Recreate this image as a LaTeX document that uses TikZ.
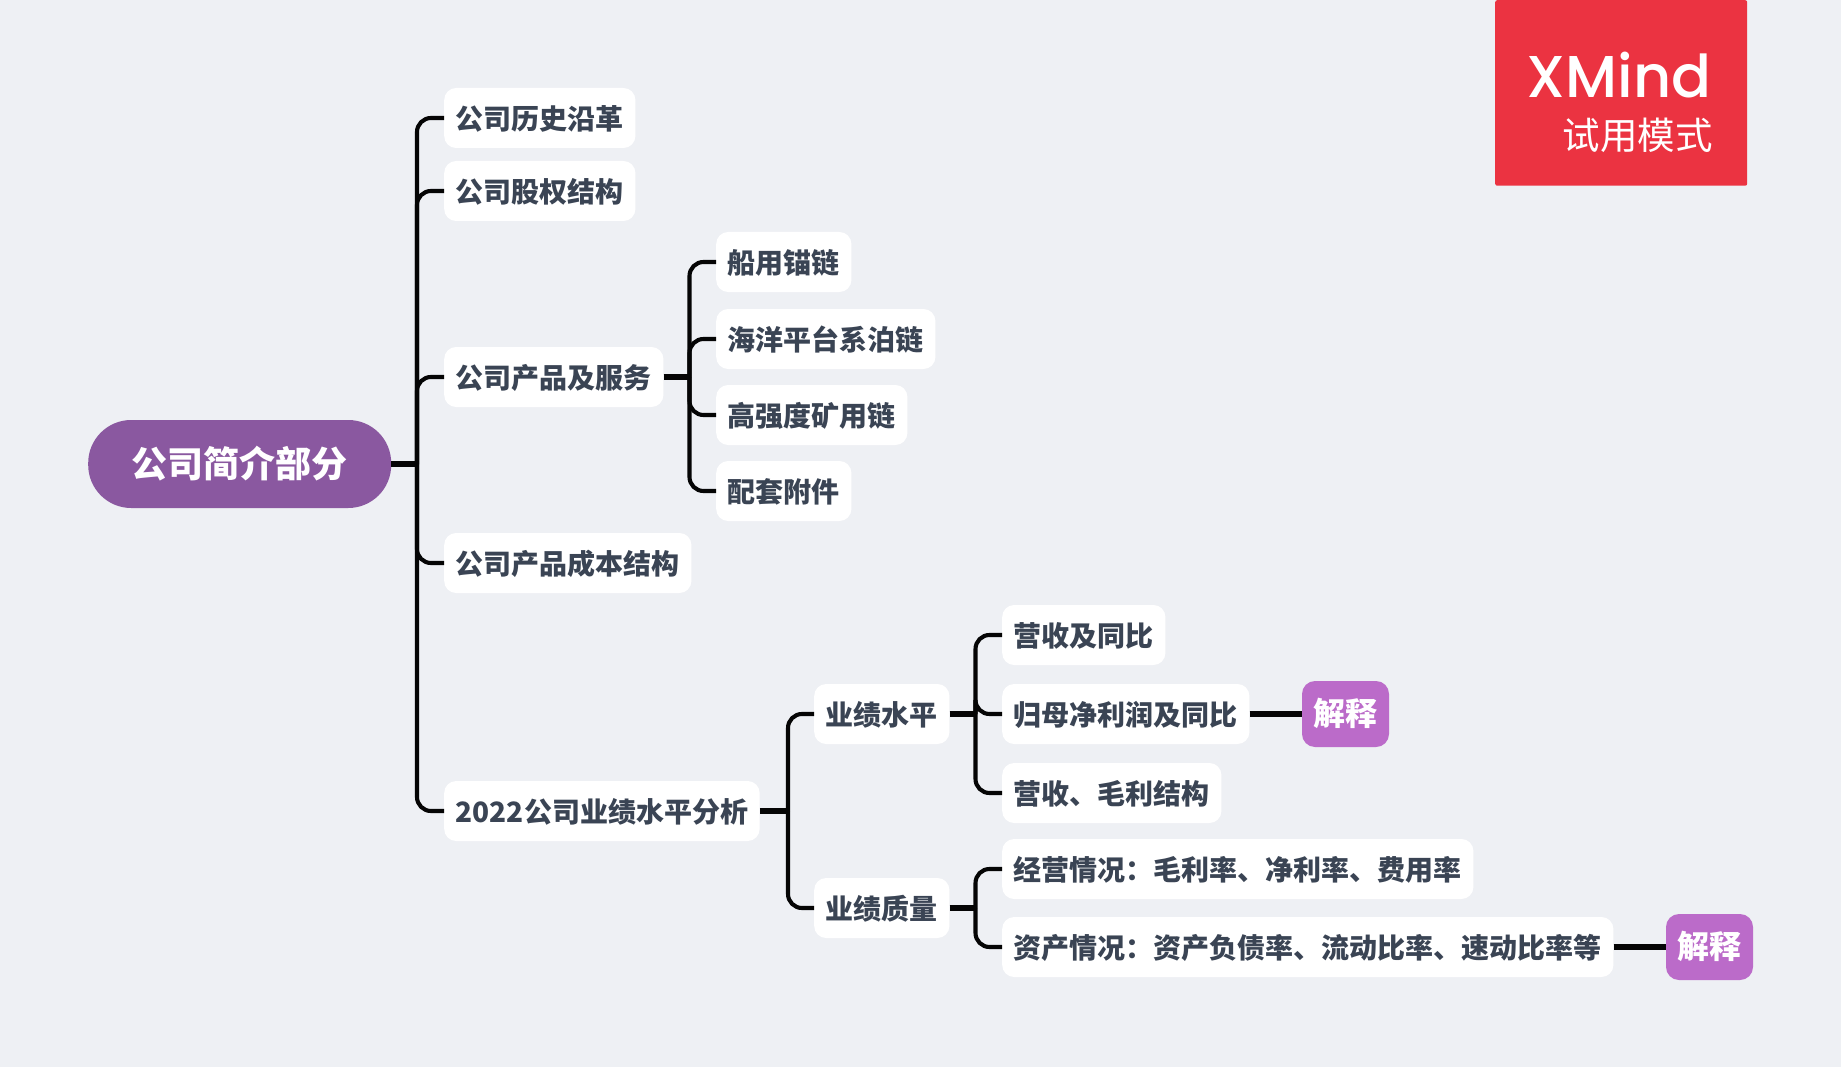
\documentclass[tikz,border=0pt]{standalone}
\usepackage{fontspec}
\setmainfont{Noto Sans CJK SC}
\newfontfamily\xmfont{Poppins Medium}
\definecolor{bgc}{HTML}{EEF0F4}
\definecolor{txt}{HTML}{3A4454}
\definecolor{rootc}{HTML}{8A58A0}
\definecolor{notec}{HTML}{BB6BC9}
\definecolor{redc}{HTML}{EB3341}
\definecolor{linec}{HTML}{050505}
\tikzset{
  topic/.style={anchor=west,fill=white,rounded corners=12pt,inner xsep=11.6pt,inner ysep=0pt,
    minimum height=60pt,text=txt,font=\fontsize{28}{32}\bfseries\selectfont,text height=25.2pt,text depth=2.8pt},
  rootnode/.style={anchor=west,fill=rootc,rounded corners=43pt,inner sep=0pt,minimum width=303pt,minimum height=88pt,
    text=white,font=\fontsize{36}{40}\bfseries\selectfont,text height=31pt,text depth=5pt},
  notenode/.style={fill=notec,rounded corners=13pt,inner sep=0pt,minimum width=87pt,minimum height=66pt,
    text=white,font=\fontsize{32}{36}\bfseries\selectfont,text height=27.8pt,text depth=4.2pt},
  thinline/.style={draw=linec,line width=4.1pt,rounded corners=14pt},
  stubline/.style={draw=linec,line width=5.4pt},
}
\begin{document}
\begin{tikzpicture}[x=1pt,y=-1pt]
\useasboundingbox (0,0) rectangle (1841,1067);
\fill[bgc] (0,0) rectangle (1841,1067);

\node[fill=redc,rounded corners=2pt,anchor=north west,inner sep=0pt,minimum width=252pt,minimum height=185.5pt] (badge) at (1495,0) {};
\node[anchor=base east,text=white,inner sep=0pt,font=\xmfont\fontsize{59}{64}\selectfont] (xm) at (1712,98) {XMind};
\node[anchor=east,text=white,inner sep=0pt,font=\fontsize{37.5}{40}\selectfont] (trial) at (1713,135) {试用模式};

\begin{scope}[shift={(0,1)}]
\node[rootnode] (root) at (88,463) {公司简介部分};

\node[topic] (a1) at (444,117) {公司历史沿革};
\node[topic] (a2) at (444,190) {公司股权结构};
\node[topic] (a3) at (444,376) {公司产品及服务};
\node[topic] (a4) at (444,562) {公司产品成本结构};
\node[topic] (a5) at (444,810) {2022公司业绩水平分析};

\node[topic] (b1) at (716,261) {船用锚链};
\node[topic] (b2) at (716,338) {海洋平台系泊链};
\node[topic] (b3) at (716,414) {高强度矿用链};
\node[topic] (b4) at (716,490) {配套附件};

\node[topic] (c1) at (814,713) {业绩水平};
\node[topic] (c2) at (814,907) {业绩质量};

\node[topic] (d1) at (1002,634) {营收及同比};
\node[topic] (d2) at (1002,713) {归母净利润及同比};
\node[topic] (d3) at (1002,792) {营收、毛利结构};
\node[topic] (e1) at (1002,868) {经营情况：毛利率、净利率、费用率};
\node[topic] (e2) at (1002,946) {资产情况：资产负债率、流动比率、速动比率等};

\node[notenode] (n1) at (1345.5,713) {解释};
\node[notenode] (n2) at (1709.5,946) {解释};

\coordinate (ja) at (417,463);
\coordinate (jb) at (689.5,376);
\coordinate (jc) at (788,810);
\coordinate (jd) at (975.5,713);
\coordinate (je) at (975.5,907);

\draw[stubline] (root.east) -- (ja);
\foreach \t in {a1,a2,a3,a4,a5} \draw[thinline] (ja) |- (\t.west);
\draw[stubline] (a3.east) -- (jb);
\foreach \t in {b1,b2,b3,b4} \draw[thinline] (jb) |- (\t.west);
\draw[stubline] (a5.east) -- (jc);
\foreach \t in {c1,c2} \draw[thinline] (jc) |- (\t.west);
\draw[stubline] (c1.east) -- (jd);
\foreach \t in {d1,d2,d3} \draw[thinline] (jd) |- (\t.west);
\draw[stubline] (c2.east) -- (je);
\foreach \t in {e1,e2} \draw[thinline] (je) |- (\t.west);
\draw[stubline] (d2.east) -- (n1.west);
\draw[stubline] (e2.east) -- (n2.west);
\end{scope}
\end{tikzpicture}
\end{document}
